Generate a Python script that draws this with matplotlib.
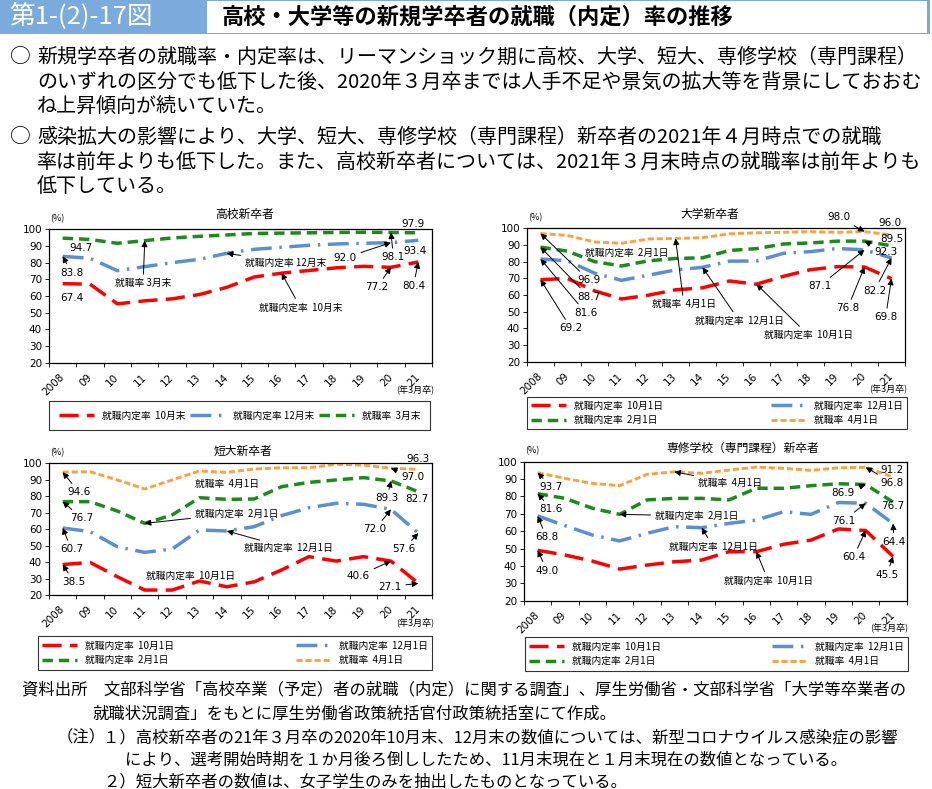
import matplotlib
matplotlib.use("Agg")
import matplotlib.pyplot as plt
import numpy as np
from matplotlib.lines import Line2D
from matplotlib.patches import Rectangle

plt.rcParams["font.family"] = ["Noto Sans CJK JP", "DejaVu Sans"]

W, H = 932, 789
JP = ["Noto Sans CJK JP", "DejaVu Sans"]

YEARS = ["2008", "09", "10", "11", "12", "13", "14", "15", "16", "17", "18", "19", "20", "21"]

# 高校新卒者
HS_OCT = [67.4, 67.1, 55.3, 57.1, 58.3, 60.9, 65.2, 71.4, 73.7, 75.3, 76.9, 77.8, 77.2, 80.4]
HS_DEC = [83.8, 82.6, 75.2, 77.6, 80.0, 82.0, 85.6, 88.0, 89.2, 90.4, 91.2, 91.6, 92.0, 93.4]
HS_MAR = [94.7, 93.9, 91.6, 93.2, 94.8, 95.8, 96.6, 97.5, 97.7, 97.9, 98.1, 98.2, 98.1, 97.9]
# 大学新卒者
UNIV_OCT = [69.2, 69.9, 62.5, 57.6, 59.9, 63.1, 64.3, 68.4, 66.5, 71.2, 75.2, 77.0, 76.8, 69.8]
UNIV_DEC = [81.6, 80.5, 73.1, 68.8, 71.9, 75.0, 76.6, 80.3, 80.4, 85.0, 86.0, 87.9, 87.1, 82.2]
UNIV_FEB = [88.7, 86.3, 80.0, 77.4, 80.5, 81.9, 82.3, 86.7, 87.8, 90.6, 91.2, 92.3, 92.3, 89.5]
UNIV_APR = [96.9, 95.7, 91.8, 91.0, 93.6, 93.9, 94.4, 96.7, 97.3, 97.6, 98.0, 97.6, 98.0, 96.0]
# 短大新卒者
JC_OCT = [38.5, 39.8, 31.1, 23.0, 23.0, 28.5, 25.0, 28.0, 35.2, 43.3, 40.6, 43.3, 40.6, 27.1]
JC_DEC = [60.7, 58.5, 49.3, 45.9, 47.9, 59.5, 58.9, 61.5, 68.2, 73.0, 75.7, 75.1, 72.0, 57.6]
JC_FEB = [76.7, 76.7, 71.0, 63.5, 68.6, 79.1, 78.1, 78.3, 85.8, 88.4, 89.9, 91.3, 89.3, 82.7]
JC_APR = [94.6, 94.9, 89.9, 84.4, 89.9, 95.3, 94.5, 96.5, 97.3, 97.3, 99.4, 98.9, 97.0, 96.3]
# 専修学校（専門課程）新卒者
VOC_OCT = [49.0, 46.3, 42.8, 38.2, 40.5, 42.4, 43.4, 48.2, 48.2, 52.5, 54.9, 61.3, 60.4, 45.5]
VOC_DEC = [68.8, 63.2, 57.8, 54.4, 58.8, 62.6, 62.0, 64.5, 66.4, 71.2, 69.7, 76.5, 76.1, 64.4]
VOC_FEB = [81.6, 78.9, 73.2, 69.7, 78.0, 78.9, 78.9, 78.0, 84.7, 84.7, 86.2, 87.3, 86.9, 76.7]
VOC_APR = [93.7, 90.4, 87.5, 86.2, 92.7, 94.2, 93.3, 95.2, 96.9, 96.2, 95.0, 96.5, 96.8, 91.2]

HS_LABELS = ["就職内定率  10月末", "就職内定率 12月末", "就職率  3月末"]
LABELS4 = ["就職内定率  10月1日", "就職内定率  12月1日", "就職内定率  2月1日", "就職率  4月1日"]

STYLE = {
    "oct": dict(color="#ff0000", lw=2.5, dashes=(5.5, 2.4)),
    "dec": dict(color="#5a8fd4", lw=2.5, dashes=(6, 2.2, 0.7, 2.2)),
    "feb": dict(color="#1a8c1a", lw=2.5, dashes=(3.0, 1.7)),
    "apr": dict(color="#ffa040", lw=2.1, dashes=(2.1, 1.0)),
}
ARROW = dict(arrowstyle="-|>", color="black", lw=0.7, mutation_scale=9, shrinkA=1, shrinkB=0)


def fbox(l, t, r, b):
    return [l / W, 1 - b / H, (r - l) / W, (b - t) / H]


def ftext(fig, px, py, s, **kw):
    fig.text(px / W, 1 - py / H, s, **kw)


def make_axes(fig, box, title, title_x, title_y):
    l, t, r, b = box
    ax = fig.add_axes(fbox(l, t, r, b))
    ax.set_xlim(-0.5, 13.5); ax.set_ylim(20, 100)
    ax.set_yticks(range(20, 101, 10))
    ax.set_xticks(range(14))
    ax.set_xticklabels(YEARS, rotation=45, ha="right", va="center", rotation_mode="anchor")
    ax.set_xticks(np.arange(-0.5, 14, 1), minor=True)
    ax.tick_params(axis="x", which="major", length=0, pad=9, labelsize=7.5, labelfontfamily="DejaVu Sans")
    ax.tick_params(axis="x", which="minor", length=3, width=0.6)
    ax.tick_params(axis="y", length=3, width=0.6, pad=2, labelsize=7.5, labelfontfamily="DejaVu Sans")
    for s in ax.spines.values():
        s.set_linewidth(0.9)
    ftext(fig, title_x, title_y, title, ha="center", va="center", fontsize=8.5)
    ftext(fig, l + 1, t - 11, "(%)", ha="left", va="center", fontsize=6.5)
    ftext(fig, r + 2, b + 27, "(年3月卒)", ha="right", va="center", fontsize=6.5)
    return ax


def draw(ax, series):
    x = np.arange(14)
    for key, vals in series:
        ax.plot(x, vals, **STYLE[key])


def note(ax, s, pos, tip=None, jp=False):
    size = 7 if jp else 7.5
    fam = JP if jp else "DejaVu Sans"
    if tip is None:
        ax.text(pos[0], pos[1], s, ha="center", va="center", fontsize=size, family=fam, clip_on=False)
    else:
        ax.annotate(s, xy=tip, xytext=pos, ha="center", va="center", fontsize=size, family=fam,
                    arrowprops=ARROW, annotation_clip=False)


def val(series, i, pos, arrow=True):
    return (f"{series[i]:.1f}", pos, (i, series[i]) if arrow else None)


def legend(fig, keys, labels, box, ncol, pad):
    handles = [Line2D([], [], **STYLE[k]) for k in keys]
    l, t, r, b = box
    leg = fig.legend(handles, labels, loc="center", bbox_to_anchor=fbox(l, t, r, b),
                     bbox_transform=fig.transFigure, mode="expand", ncol=ncol, fontsize=7,
                     frameon=True, fancybox=False, edgecolor="black", handlelength=3.6,
                     borderpad=pad, labelspacing=0.45, borderaxespad=0)
    leg.get_frame().set_linewidth(0.8)


fig = plt.figure(figsize=(W / 100, H / 100), dpi=100)

# header
fig.patches.append(Rectangle((0, 1 - 34 / H), 930 / W, 34 / H, transform=fig.transFigure,
                             facecolor="#7aabdc", edgecolor="none"))
fig.patches.append(Rectangle((207 / W, 1 - 32.5 / H), 720 / W, 31 / H, transform=fig.transFigure,
                             facecolor="white", edgecolor="none"))
ftext(fig, 9, 17, "第1-(2)-17図", color="white", fontsize=18.5, va="center", ha="left")
ftext(fig, 222, 17, "高校・大学等の新規学卒者の就職（内定）率の推移", fontsize=16,
      fontweight="bold", va="center", ha="left")

body = [
    (57, "○", "新規学卒者の就職率・内定率は、リーマンショック期に高校、大学、短大、専修学校（専門課程）"),
    (82, "", "のいずれの区分でも低下した後、2020年３月卒までは人手不足や景気の拡大等を背景にしておおむ"),
    (107, "", "ね上昇傾向が続いていた。"),
    (137, "○", "感染拡大の影響により、大学、短大、専修学校（専門課程）新卒者の2021年４月時点での就職"),
    (162, "", "率は前年よりも低下した。また、高校新卒者については、2021年３月末時点の就職率は前年よりも"),
    (186, "", "低下している。"),
]
for y, mark, line in body:
    if mark:
        ftext(fig, 10, y, mark, fontsize=15, va="center")
    ftext(fig, 37, y, line, fontsize=14.4, va="center")

# 高校新卒者
ax1 = make_axes(fig, (49, 229.3, 432, 362.7), "高校新卒者", 245, 214)
draw(ax1, [("oct", HS_OCT), ("dec", HS_DEC), ("feb", HS_MAR)])
for s, pos, tip in [
    val(HS_MAR, 0, (0.66, 89), False),
    val(HS_DEC, 0, (0.32, 74)),
    val(HS_OCT, 0, (0.35, 58.6), False),
    val(HS_DEC, 12, (10.33, 83)),
    val(HS_MAR, 12, (12.09, 83.2)),
    val(HS_MAR, 13, (12.82, 103.2), False),
    val(HS_DEC, 13, (12.88, 87.2), False),
    val(HS_OCT, 12, (11.49, 65.2)),
    val(HS_OCT, 13, (12.82, 66)),
]:
    note(ax1, s, pos, tip)
note(ax1, "就職率 3月末", (2.94, 67.6), (3, HS_MAR[3]), jp=True)
note(ax1, "就職内定率 12月末", (8.14, 80.2), (6, HS_DEC[6]), jp=True)
note(ax1, "就職内定率  10月末", (8.69, 53.2), (8, HS_OCT[8]), jp=True)
legend(fig, ["oct", "dec", "feb"], HS_LABELS, (49, 400, 430, 431), 3, 1.0)

# 大学新卒者
ax2 = make_axes(fig, (527, 228.3, 905, 361.7), "大学新卒者", 710, 214)
draw(ax2, [("oct", UNIV_OCT), ("dec", UNIV_DEC), ("feb", UNIV_FEB), ("apr", UNIV_APR)])
for s, pos, tip in [
    val(UNIV_APR, 0, (1.79, 69)),
    val(UNIV_FEB, 0, (1.79, 59)),
    val(UNIV_DEC, 0, (1.67, 49.4)),
    val(UNIV_OCT, 0, (1.13, 40)),
    val(UNIV_APR, 12, (11.07, 106.6)),
    val(UNIV_APR, 13, (12.95, 103), False),
    val(UNIV_FEB, 13, (13.0, 93.4), False),
    val(UNIV_FEB, 12, (12.78, 86)),
    val(UNIV_DEC, 12, (10.33, 65.4)),
    val(UNIV_OCT, 12, (11.37, 52)),
    val(UNIV_DEC, 13, (12.37, 62.6)),
    val(UNIV_OCT, 13, (12.78, 46.6)),
]:
    note(ax2, s, pos, tip)
note(ax2, "就職内定率  2月1日", (3.19, 85.4), jp=True)
note(ax2, "就職率  4月1日", (5.31, 54.4), (5, UNIV_APR[5]), jp=True)
note(ax2, "就職内定率  12月1日", (7.36, 44.6), (6, UNIV_DEC[6]), jp=True)
note(ax2, "就職内定率  10月1日", (9.92, 36), (8, UNIV_OCT[8]), jp=True)
legend(fig, ["oct", "feb", "dec", "apr"], [LABELS4[0], LABELS4[2], LABELS4[1], LABELS4[3]],
       (527, 397, 907, 429), 2, 0.4)

# 短大新卒者
ax3 = make_axes(fig, (49, 463.3, 432, 595), "短大新卒者", 243, 451)
draw(ax3, [("oct", JC_OCT), ("dec", JC_DEC), ("feb", JC_FEB), ("apr", JC_APR)])
for s, pos, tip in [
    val(JC_APR, 13, (13.0, 102.4), False),
    val(JC_APR, 0, (0.6, 82.4)),
    val(JC_FEB, 0, (0.7, 66.6)),
    val(JC_DEC, 0, (0.32, 47.7)),
    val(JC_OCT, 0, (0.41, 28)),
    val(JC_FEB, 12, (11.85, 78.7)),
    val(JC_APR, 12, (12.8, 91.9)),
    val(JC_FEB, 13, (12.93, 78.1), False),
    val(JC_DEC, 12, (11.42, 59.9)),
    val(JC_DEC, 13, (12.46, 47.8)),
    val(JC_OCT, 12, (10.81, 31.7)),
    val(JC_OCT, 13, (11.97, 25)),
]:
    note(ax3, s, pos, tip)
note(ax3, "就職率  4月1日", (6.01, 87.2), jp=True)
note(ax3, "就職内定率  2月1日", (6.35, 69.6), (3, JC_FEB[3]), jp=True)
note(ax3, "就職内定率  12月1日", (8.26, 48.4), (6, JC_DEC[6]), jp=True)
note(ax3, "就職内定率  10月1日", (4.67, 31.7), jp=True)
legend(fig, ["oct", "feb", "dec", "apr"], [LABELS4[0], LABELS4[2], LABELS4[1], LABELS4[3]],
       (38, 636, 432, 670), 2, 0.45)

# 専修学校（専門課程）新卒者
ax4 = make_axes(fig, (524, 461.7, 906.7, 600.7), "専修学校（専門課程）新卒者", 743, 448)
draw(ax4, [("oct", VOC_OCT), ("dec", VOC_DEC), ("feb", VOC_FEB), ("apr", VOC_APR)])
for s, pos, tip in [
    val(VOC_APR, 13, (12.96, 95.2), False),
    val(VOC_APR, 12, (12.96, 87.9)),
    val(VOC_FEB, 12, (11.18, 82.2)),
    val(VOC_APR, 0, (0.5, 85.3)),
    val(VOC_FEB, 0, (0.5, 72.6)),
    val(VOC_DEC, 0, (0.32, 56.5)),
    val(VOC_OCT, 0, (0.34, 37.3)),
    val(VOC_DEC, 12, (11.18, 66)),
    val(VOC_FEB, 13, (12.99, 74.5), False),
    val(VOC_DEC, 13, (13.04, 54)),
    val(VOC_OCT, 12, (11.55, 45)),
    val(VOC_OCT, 13, (12.77, 34.8)),
]:
    note(ax4, s, pos, tip)
note(ax4, "就職率  4月1日", (7.03, 87.9), (5, VOC_APR[5]), jp=True)
note(ax4, "就職内定率  2月1日", (5.81, 68.8), (3, VOC_FEB[3]), jp=True)
note(ax4, "就職内定率  12月1日", (6.42, 51.1), (6, VOC_DEC[6]), jp=True)
note(ax4, "就職内定率  10月1日", (8.44, 31.5), (8, VOC_OCT[8]), jp=True)
legend(fig, ["oct", "feb", "dec", "apr"], [LABELS4[0], LABELS4[2], LABELS4[1], LABELS4[3]],
       (525, 637, 908, 671), 2, 0.45)

# footer
foot = [
    (22, 690, "資料出所　文部科学省「高校卒業（予定）者の就職（内定）に関する調査」、厚生労働省・文部科学省「大学等卒業者の"),
    (92, 714, "就職状況調査」をもとに厚生労働省政策統括官付政策統括室にて作成。"),
    (57, 738, "（注）"),
    (103, 738, "１）高校新卒者の21年３月卒の2020年10月末、12月末の数値については、新型コロナウイルス感染症の影響"),
    (125, 760, "により、選考開始時期を１か月後ろ倒ししたため、11月末現在と１月末現在の数値となっている。"),
    (103, 782, "２）短大新卒者の数値は、女子学生のみを抽出したものとなっている。"),
]
for x, y, s in foot:
    ftext(fig, x, y, s, fontsize=11.75, va="center")

fig.savefig("out.png", dpi=100)
